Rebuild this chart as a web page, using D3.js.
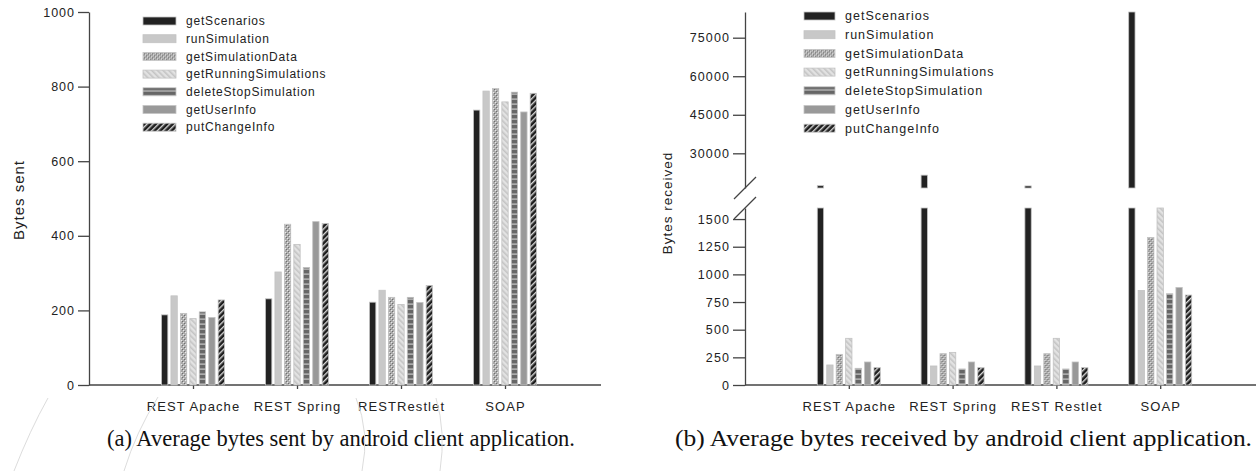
<!DOCTYPE html>
<html>
<head>
<meta charset="utf-8">
<script src="https://cdn.jsdelivr.net/npm/d3@7"></script>
<style>
  body { margin: 0; background: #fff; }
  svg text { font-family: "Liberation Sans", Arial, sans-serif; fill: #222; }
  .axis path, .axis line { stroke: #444; stroke-width: 1.3; }
  .caption { font-family: "Liberation Serif", "Times New Roman", serif; font-size: 24px; fill: #111; }
</style>
</head>
<body>
<svg id="chart" width="1259" height="471"></svg>
<script>
// series (one per web method) and categories
const series = ["getScenarios", "runSimulation", "getSimulationData", "getRunningSimulations",
                "deleteStopSimulation", "getUserInfo", "putChangeInfo"];
const catsSent = ["REST Apache", "REST Spring", "RESTRestlet", "SOAP"];
const catsRecv = ["REST Apache", "REST Spring", "REST Restlet", "SOAP"];

// bytes sent, one row per category, in series order
const sentValues = [
  [188, 239, 192, 178, 196, 181, 228],
  [231, 303, 431, 377, 315, 438, 433],
  [222, 254, 235, 216, 235, 221, 267],
  [737, 788, 795, 759, 785, 732, 782]
];
// bytes received, one row per category, in series order
const recvValues = [
  [17400, 181, 277, 422, 151, 208, 157],
  [21500, 172, 283, 295, 145, 208, 157],
  [17300, 172, 283, 422, 145, 208, 157],
  [86000, 855, 1334, 1650, 825, 882, 813]
];

const sentTicks = [0, 200, 400, 600, 800, 1000];
const recvTicksLow = [0, 250, 500, 750, 1000, 1250, 1500];
const recvTicksHigh = [30000, 45000, 60000, 75000];
const recvBreak = [1600, 16500]; // top of lower segment, bottom of upper segment

const captions = ["(a) Average bytes sent by android client application.",
                  "(b) Average bytes received by android client application."];

const svg = d3.select("#chart");
const defs = svg.append("defs");
const fmt = d3.format("d");

// fill patterns, one per series
function stripes(id, bg, fg, angle, size, w) {
  const p = defs.append("pattern").attr("id", id).attr("patternUnits", "userSpaceOnUse")
    .attr("width", size).attr("height", size).attr("patternTransform", "rotate(" + angle + ")");
  p.append("rect").attr("width", size).attr("height", size).attr("fill", bg);
  p.append("rect").attr("width", w).attr("height", size).attr("fill", fg);
}
stripes("p-running", "#e2e2e2", "#c4c4c4", -45, 4, 1.6);
stripes("p-put", "#1e1e1e", "#d8d8d8", 45, 4, 1.4);

const pd = defs.append("pattern").attr("id", "p-delete").attr("patternUnits", "userSpaceOnUse")
  .attr("width", 6).attr("height", 5);
pd.append("rect").attr("width", 6).attr("height", 5).attr("fill", "#666");
pd.append("rect").attr("y", 3.5).attr("width", 6).attr("height", 1.2).attr("fill", "#c8c8c8");

const ps = defs.append("pattern").attr("id", "p-simdata").attr("patternUnits", "userSpaceOnUse")
  .attr("width", 4).attr("height", 4);
ps.append("rect").attr("width", 4).attr("height", 4).attr("fill", "#a9a9a9");
ps.append("rect").attr("x", 0).attr("y", 0).attr("width", 1.2).attr("height", 1.2).attr("fill", "#e8e8e8");
ps.append("rect").attr("x", 2).attr("y", 2).attr("width", 1.2).attr("height", 1.2).attr("fill", "#e8e8e8");
ps.append("rect").attr("x", 1).attr("y", 1).attr("width", 1).attr("height", 1).attr("fill", "#6e6e6e");
ps.append("rect").attr("x", 3).attr("y", 3).attr("width", 1).attr("height", 1).attr("fill", "#6e6e6e");

const fills = d3.scaleOrdinal().domain(series).range([
  "#222", "#c8c8c8", "url(#p-simdata)", "url(#p-running)", "url(#p-delete)", "#999", "url(#p-put)"
]);

function legend(x, y, step, fontSize, spacing, sw) {
  const g = svg.append("g").attr("transform", `translate(${x},${y})`);
  const row = g.selectAll("g").data(series).join("g")
    .attr("transform", (d, i) => `translate(0,${i * step})`);
  row.append("rect").attr("y", -4).attr("width", sw).attr("height", 8)
    .attr("fill", d => fills(d)).attr("stroke", "#c4c4c4").attr("stroke-width", 0.8);
  row.append("text").attr("x", sw + 10).attr("dy", "0.35em")
    .style("font-size", fontSize + "px").style("letter-spacing", spacing + "px").text(d => d);
}

function bars(g, cats, values, x, inner, segments) {
  const grp = g.selectAll("g.grp").data(cats).join("g").attr("class", "grp")
    .attr("transform", d => `translate(${x(d)},0)`);
  grp.each(function (c, ci) {
    const data = series.map((s, si) => ({ s: s, v: values[ci][si] }));
    segments.forEach(seg => {
      const lo = seg.domain()[0], hi = seg.domain()[1];
      d3.select(this).selectAll(null).data(data.filter(d => d.v > lo)).join("rect")
        .attr("x", d => inner(d.s)).attr("width", inner.bandwidth())
        .attr("y", d => seg(Math.min(d.v, hi)))
        .attr("height", d => seg(lo) - seg(Math.min(d.v, hi)))
        .attr("fill", d => fills(d.s)).attr("stroke", "#c2c2c2").attr("stroke-width", 0.8);
    });
  });
}

function xAxis(cats, x0, x1, y0, fontSize, spacing) {
  const x = d3.scalePoint().domain(cats).range([x0, x1]).padding(1);
  const g = svg.append("g").attr("class", "axis").attr("transform", `translate(0,${y0})`)
    .call(d3.axisBottom(x).tickSize(4).tickPadding(13).tickSizeOuter(0));
  g.select(".domain").remove();
  g.append("line").attr("x1", x0).attr("x2", x1 - 8);
  g.selectAll("text").style("font-size", fontSize + "px").style("letter-spacing", spacing + "px")
    .style("fill", "#222");
  return x;
}

const inner = d3.scaleBand().domain(series).range([-31.5, 31.5]).paddingInner(0.33);

// ---- (a) bytes sent
const ySent = d3.scaleLinear().domain([0, 1000]).range([385, 12]);
const xSent = xAxis(catsSent, 89, 609, 385, 13, 1.1);
svg.append("g").attr("class", "axis").attr("transform", "translate(89,0)")
  .call(d3.axisLeft(ySent).tickValues(sentTicks).tickFormat(fmt).tickSize(11).tickPadding(3).tickSizeOuter(0))
  .selectAll("text").style("font-size", "12.5px").style("letter-spacing", "1px").style("fill", "#222");
bars(svg.append("g"), catsSent, sentValues, xSent, inner, [ySent]);
svg.append("text").attr("transform", "translate(24,200) rotate(-90)").attr("text-anchor", "middle")
  .style("font-size", "15px").style("letter-spacing", "1px").text("Bytes sent");
legend(143, 21, 17.7, 12, 0.8, 33);

// ---- (b) bytes received, with axis break
const yLow = d3.scaleLinear().domain([0, recvBreak[0]]).range([385, 208]);
const yHigh = d3.scaleLinear().domain([recvBreak[1], 85000]).range([188, 12]);
const xRecv = xAxis(catsRecv, 745, 1264, 385, 13, 1.1);
[[yLow, recvTicksLow], [yHigh, recvTicksHigh]].forEach(([sc, ticks]) => {
  svg.append("g").attr("class", "axis").attr("transform", "translate(745,0)")
    .call(d3.axisLeft(sc).tickValues(ticks).tickFormat(fmt).tickSize(12).tickPadding(3).tickSizeOuter(0))
    .selectAll("text").style("font-size", "12.5px").style("letter-spacing", "1.1px").style("fill", "#222");
});
bars(svg.append("g"), catsRecv, recvValues, xRecv, inner, [yLow, yHigh]);
// break marks on the axis
svg.append("g").selectAll("line").data([yHigh(recvBreak[1]), yLow(recvBreak[0])]).join("line")
  .attr("x1", 734).attr("x2", 756).attr("y1", d => d + 11).attr("y2", d => d - 11)
  .attr("stroke", "#444").attr("stroke-width", 1.2);
svg.append("text").attr("transform", "translate(672,203) rotate(-90)").attr("text-anchor", "middle")
  .style("font-size", "13.5px").style("letter-spacing", "1px").text("Bytes received");
legend(804, 16, 18.7, 12.5, 1, 31);

// captions
svg.selectAll("text.caption").data(captions).join("text").attr("class", "caption")
  .attr("x", (d, i) => [107, 675][i]).attr("y", 446)
  .attr("textLength", (d, i) => [468, 577][i]).attr("lengthAdjust", "spacingAndGlyphs")
  .text(d => d);

// faint scan marks near the left caption
svg.append("g").attr("fill", "none").attr("stroke", "#dcdcdc").attr("stroke-width", 1)
  .selectAll("path").data(["M48,398 Q30,430 14,471", "M158,397 Q136,432 124,471",
                           "M356,398 Q370,432 362,471", "M436,398 Q446,432 440,471"])
  .join("path").attr("d", d => d);
</script>
</body>
</html>
